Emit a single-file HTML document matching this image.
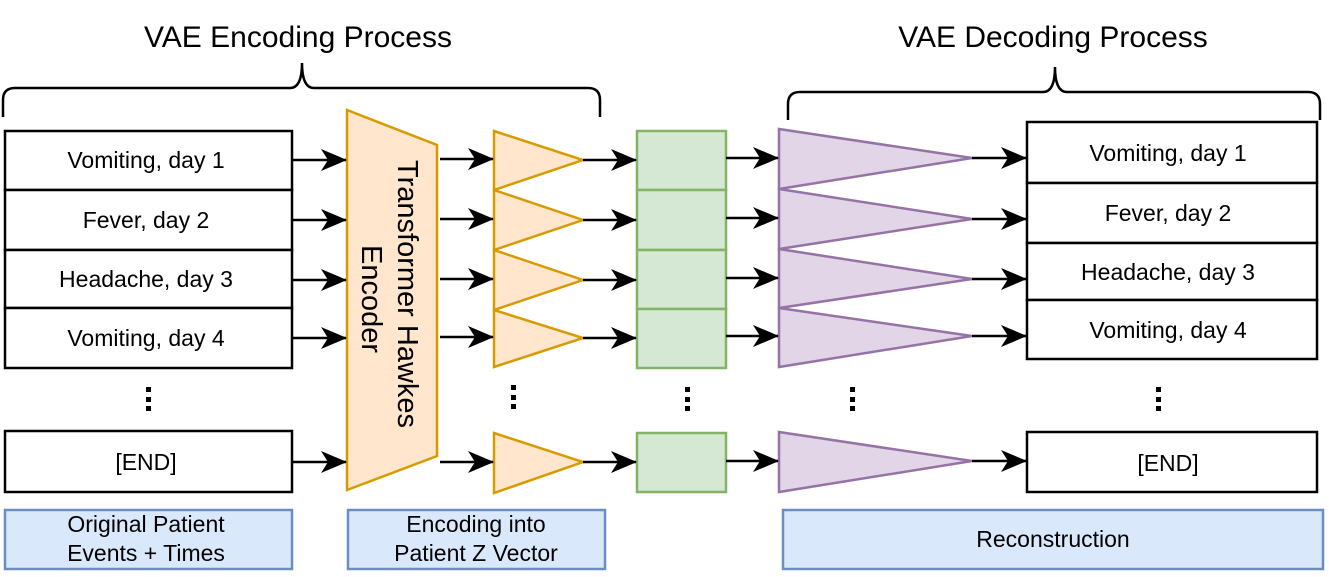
<!DOCTYPE html>
<html><head><meta charset="utf-8"><style>
html,body{margin:0;padding:0;background:#fff;}
svg{display:block;font-family:"Liberation Sans",sans-serif;}
</style></head><body>
<svg width="1329" height="577" viewBox="0 0 1329 577" xmlns="http://www.w3.org/2000/svg">
<defs>
<marker id="a" markerWidth="26" markerHeight="24" refX="25" refY="12" orient="auto" markerUnits="userSpaceOnUse">
<path d="M0,1 L26,12 L0,23 L7,12 Z" fill="#000"/>
</marker>
</defs>
<text x="298" y="47" font-size="30" text-anchor="middle">VAE Encoding Process</text>
<text x="1053" y="47" font-size="30" text-anchor="middle">VAE Decoding Process</text>
<path d="M3,117 L3,100 Q3,88 15,88 L290,88 Q302,88 302,63 Q302,88 314,88 L588,88 Q600,88 600,100 L600,117" fill="none" stroke="#000" stroke-width="2.5"/>
<path d="M788,120 L788,104 Q788,92 800,92 L1043,92 Q1055,92 1055,67 Q1055,92 1067,92 L1308,92 Q1320,92 1320,104 L1320,120" fill="none" stroke="#000" stroke-width="2.5"/>
<g stroke="#000" stroke-width="2.5" fill="#fff">
<rect x="5" y="131" width="287" height="59"/>
<rect x="5" y="190" width="287" height="60"/>
<rect x="5" y="250" width="287" height="58"/>
<rect x="5" y="308" width="287" height="60"/>
<rect x="5" y="431" width="287" height="61"/>
<rect x="1027" y="122" width="290" height="61"/>
<rect x="1027" y="183" width="290" height="60"/>
<rect x="1027" y="243" width="290" height="57"/>
<rect x="1027" y="300" width="290" height="59"/>
<rect x="1027" y="432" width="290" height="60"/>
</g>
<g font-size="23" text-anchor="middle">
<text x="146" y="168">Vomiting, day 1</text>
<text x="146" y="228">Fever, day 2</text>
<text x="146" y="287">Headache, day 3</text>
<text x="146" y="346">Vomiting, day 4</text>
<text x="146" y="470">[END]</text>
<text x="1168" y="161">Vomiting, day 1</text>
<text x="1168" y="221">Fever, day 2</text>
<text x="1168" y="280">Headache, day 3</text>
<text x="1168" y="338">Vomiting, day 4</text>
<text x="1168" y="471">[END]</text>
</g>
<path d="M347,110 L437,145 L437,456 L347,490 Z" fill="#ffe6cc" stroke="#d79b00" stroke-width="2.5"/>
<text transform="translate(398,160) rotate(90)" font-size="29" text-anchor="start">Transformer Hawkes</text>
<text transform="translate(362,245) rotate(90)" font-size="29" text-anchor="start">Encoder</text>
<g fill="#ffe6cc" stroke="#d79b00" stroke-width="2.5">
<path d="M494,131 L583,160 L494,190 Z"/>
<path d="M494,190 L583,220 L494,250 Z"/>
<path d="M494,250 L583,280 L494,310 Z"/>
<path d="M494,310 L583,338 L494,367 Z"/>
<path d="M494,433 L583,462 L494,493 Z"/>
</g>
<g fill="#d5e8d4" stroke="#82b366" stroke-width="2.5">
<rect x="637" y="131" width="89" height="59"/>
<rect x="637" y="190" width="89" height="60"/>
<rect x="637" y="250" width="89" height="59"/>
<rect x="637" y="309" width="89" height="59"/>
<rect x="637" y="433" width="89" height="59"/>
</g>
<g fill="#e1d5e7" stroke="#9673a6" stroke-width="2.5">
<path d="M779,129 L972,158 L779,189 Z"/>
<path d="M779,189 L972,219 L779,249 Z"/>
<path d="M779,249 L972,279 L779,308 Z"/>
<path d="M779,308 L972,336 L779,367 Z"/>
<path d="M779,432 L972,461 L779,492 Z"/>
</g>
<g stroke="#000" stroke-width="2.5" marker-end="url(#a)">
<line x1="292" y1="160" x2="346" y2="160"/>
<line x1="292" y1="220" x2="346" y2="220"/>
<line x1="292" y1="280" x2="346" y2="280"/>
<line x1="292" y1="338" x2="346" y2="338"/>
<line x1="292" y1="462" x2="346" y2="462"/>
<line x1="440" y1="159" x2="493" y2="159"/>
<line x1="440" y1="219" x2="493" y2="219"/>
<line x1="440" y1="279" x2="493" y2="279"/>
<line x1="440" y1="337" x2="493" y2="337"/>
<line x1="440" y1="462" x2="493" y2="462"/>
<line x1="583" y1="160" x2="636" y2="160"/>
<line x1="583" y1="220" x2="636" y2="220"/>
<line x1="583" y1="280" x2="636" y2="280"/>
<line x1="583" y1="338" x2="636" y2="338"/>
<line x1="583" y1="462" x2="636" y2="462"/>
<line x1="726" y1="158" x2="778" y2="158"/>
<line x1="726" y1="218" x2="778" y2="218"/>
<line x1="726" y1="278" x2="778" y2="278"/>
<line x1="726" y1="336" x2="778" y2="336"/>
<line x1="726" y1="461" x2="778" y2="461"/>
<line x1="972" y1="158" x2="1026" y2="158"/>
<line x1="972" y1="219" x2="1026" y2="219"/>
<line x1="972" y1="279" x2="1026" y2="279"/>
<line x1="972" y1="336" x2="1026" y2="336"/>
<line x1="972" y1="461" x2="1026" y2="461"/>
</g>
<g fill="#000">
<rect x="146" y="387" width="5" height="5"/><rect x="146" y="397" width="5" height="5"/><rect x="146" y="406" width="5" height="5"/>
<rect x="511" y="385" width="5" height="5"/><rect x="511" y="395" width="5" height="5"/><rect x="511" y="404" width="5" height="5"/>
<rect x="685" y="387" width="5" height="5"/><rect x="685" y="397" width="5" height="5"/><rect x="685" y="406" width="5" height="5"/>
<rect x="850" y="387" width="5" height="5"/><rect x="850" y="397" width="5" height="5"/><rect x="850" y="406" width="5" height="5"/>
<rect x="1156" y="387" width="5" height="5"/><rect x="1156" y="397" width="5" height="5"/><rect x="1156" y="406" width="5" height="5"/>
</g>
<g fill="#dae8fc" stroke="#6c8ebf" stroke-width="2.5">
<rect x="5" y="510" width="287" height="59"/>
<rect x="348" y="510" width="257" height="59"/>
<rect x="783" y="510" width="540" height="59"/>
</g>
<g font-size="23" text-anchor="middle">
<text x="146" y="532">Original Patient</text>
<text x="146" y="561">Events + Times</text>
<text x="476" y="532">Encoding into</text>
<text x="476" y="561">Patient Z Vector</text>
<text x="1053" y="547">Reconstruction</text>
</g>
</svg>
</body></html>
